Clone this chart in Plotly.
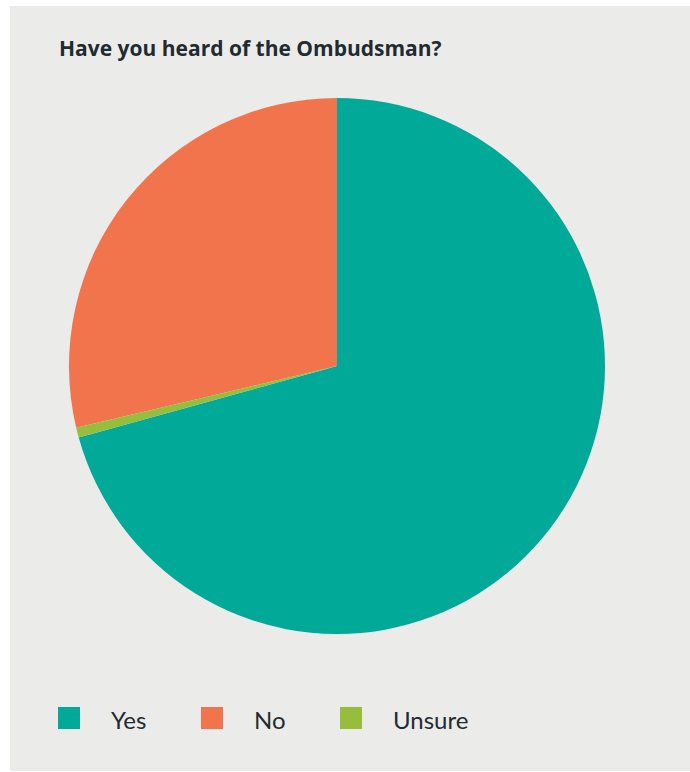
import plotly.graph_objects as go

labels = ["Yes", "No", "Unsure"]
values = [70.7, 28.7, 0.6]
colors = ["#00a998", "#f1744d", "#97bd3d"]
title_text = "Have you heard of the Ombudsman?"

W, H = 690, 772
ML, MR, MT, MB = 10, 0, 6, 1
PW, PH = W - ML - MR, H - MT - MB

def px_x(x):
    return (x - ML) / PW

def px_y(y):
    return 1 - (y - MT) / PH

cx, cy, r = 337, 366, 268
fig = go.Figure(go.Pie(
    labels=labels, values=values, sort=False,
    direction="counterclockwise", rotation=0,
    marker=dict(colors=colors, line=dict(width=0)),
    textinfo="none", hoverinfo="label+percent", showlegend=False,
    domain=dict(x=[px_x(cx - r), px_x(cx + r)], y=[px_y(cy + r), px_y(cy - r)]),
))

shapes = [dict(type="rect", xref="paper", yref="paper", x0=0, x1=1, y0=0, y1=1,
               fillcolor="#ebebea", line=dict(width=0), layer="below")]
annotations = [dict(text="<b>" + title_text + "</b>", xref="paper", yref="paper",
                    x=px_x(57), y=px_y(48), xanchor="left", yanchor="middle",
                    showarrow=False, font=dict(family="Open Sans", size=21, color="#1f2b30"))]

leg_x = [58, 201, 340]
for i, (lab, col) in enumerate(zip(labels, colors)):
    x0 = leg_x[i]
    shapes.append(dict(type="rect", xref="paper", yref="paper",
                       x0=px_x(x0), x1=px_x(x0 + 22), y0=px_y(729), y1=px_y(707),
                       fillcolor=col, line=dict(width=0)))
    annotations.append(dict(text=lab, xref="paper", yref="paper",
                            x=px_x(x0 + 51), y=px_y(719), xanchor="left", yanchor="middle",
                            showarrow=False,
                            font=dict(family="Lato", size=24, color="#1f2b30")))

fig.update_layout(
    width=W, height=H, margin=dict(l=ML, r=MR, t=MT, b=MB),
    paper_bgcolor="white", shapes=shapes, annotations=annotations,
)
fig.write_html("out.html")
